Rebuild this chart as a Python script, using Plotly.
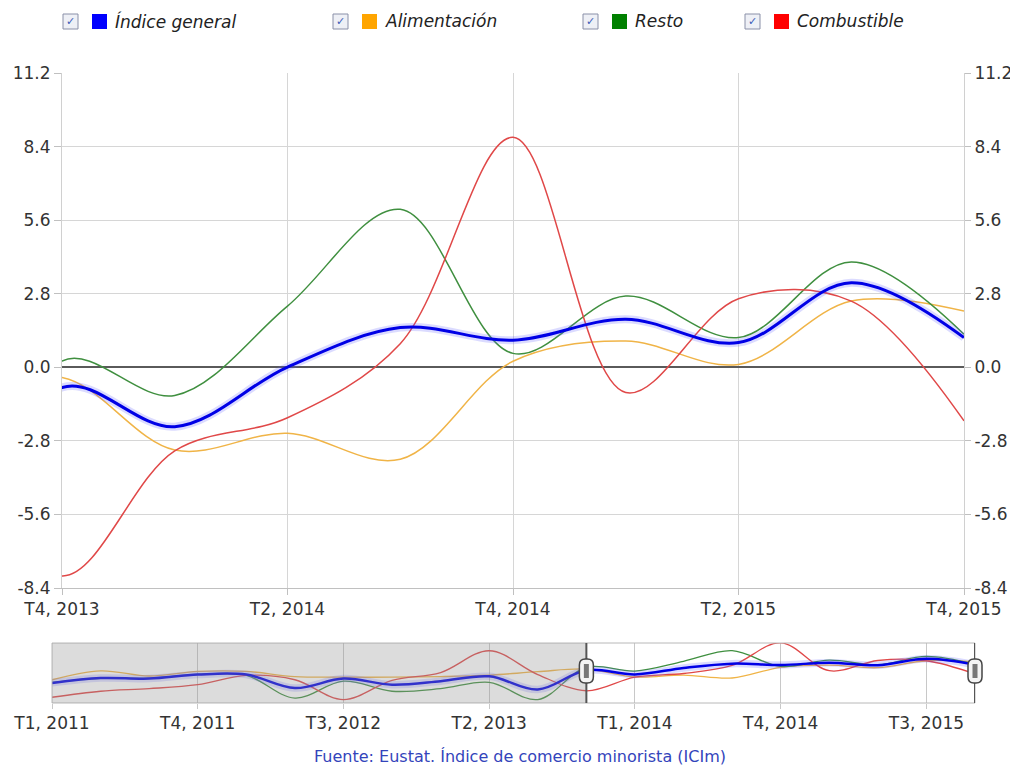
import plotly.graph_objects as go

# ---------------- data ----------------
quarters = ["T1, 2011", "T2, 2011", "T3, 2011", "T4, 2011",
            "T1, 2012", "T2, 2012", "T3, 2012", "T4, 2012",
            "T1, 2013", "T2, 2013", "T3, 2013", "T4, 2013",
            "T1, 2014", "T2, 2014", "T3, 2014", "T4, 2014",
            "T1, 2015", "T2, 2015", "T3, 2015", "T4, 2015"]

indice_general = [-5.2, -3.5, -3.7, -2.3, -2.3, -7.0, -3.7, -5.8, -4.6, -2.9,
                  -7.5, -0.77, -2.26, 0.01, 1.51, 1.03, 1.83, 0.94, 3.22, 1.13]
alimentacion = [-4.1, -1.0, -2.8, -1.2, -1.2, -3.0, -3.2, -3.2, -3.0, -2.5,
                -1.3, -0.39, -3.15, -2.51, -3.5, 0.23, 1.0, 0.11, 2.52, 2.14]
resto = [-5.0, -3.6, -3.6, -2.2, -2.6, -10.5, -4.6, -8.1, -7.2, -5.0,
         -11.0, 0.24, -1.07, 2.33, 6.01, 0.53, 2.71, 1.13, 4.01, 1.26]
combustible = [-10.2, -8.1, -7.2, -5.8, -2.6, -4.1, -11.0, -4.3, -1.6, 6.0,
               -2.3, -7.94, -3.18, -1.92, 0.9, 8.75, -0.96, 2.61, 2.52, -2.04]

series_names = ["Índice general", "Alimentación", "Resto", "Combustible"]
legend_colors = ["#0000ff", "#ffa500", "#008000", "#ff0000"]

y_ticks = [-8.4, -5.6, -2.8, 0.0, 2.8, 5.6, 8.4, 11.2]
main_tick_idx = [11, 13, 15, 17, 19]
nav_tick_idx = [0, 3, 6, 9, 12, 15, 18]
sel_start, sel_end = 11, 19
source_text = "Fuente: Eustat. Índice de comercio minorista (ICIm)"

# ---------------- layout helpers ----------------
# the page body has an 8px margin, so the figure starts at (8, 8) in the window
OFF = 8
W, H = 1018 - OFF, 765 - OFF
def px(x):
    return (x - OFF) / W
def py(y):
    return 1 - (y - OFF) / H

MAIN_L, MAIN_R, MAIN_T, MAIN_B = 62, 964, 73, 588
NAV_L, NAV_R, NAV_T, NAV_B = 52, 975, 643, 703
FONT = "DejaVu Sans, Verdana, sans-serif"

x_all = list(range(len(quarters)))

line_colors = {"gen": "#0000e6", "ali": "#f0b447", "res": "#3f8f3f", "com": "#e04848"}

fig = go.Figure()

def add_lines(xa, ya, blue_w, other_w):
    for vals, col in [(alimentacion, line_colors["ali"]),
                      (resto, line_colors["res"]),
                      (combustible, line_colors["com"])]:
        fig.add_trace(go.Scatter(x=x_all, y=vals, xaxis=xa, yaxis=ya, mode="lines",
                                 line=dict(color=col, width=other_w, shape="spline", smoothing=1.0),
                                 hoverinfo="skip", showlegend=False))
    fig.add_trace(go.Scatter(x=x_all, y=indice_general, xaxis=xa, yaxis=ya, mode="lines",
                             line=dict(color="rgba(90,90,255,0.22)", width=blue_w + 5,
                                       shape="spline", smoothing=1.0),
                             hoverinfo="skip", showlegend=False))
    fig.add_trace(go.Scatter(x=x_all, y=indice_general, xaxis=xa, yaxis=ya, mode="lines",
                             line=dict(color=line_colors["gen"], width=blue_w,
                                       shape="spline", smoothing=1.0),
                             hoverinfo="skip", showlegend=False))

add_lines("x", "y", 3, 1.5)
add_lines("x2", "y2", 2.5, 1.3)

# dummy trace for the right-hand axis
fig.add_trace(go.Scatter(x=[sel_start], y=[0], xaxis="x", yaxis="y3", mode="markers",
                         marker=dict(opacity=0), hoverinfo="skip", showlegend=False))

tick_font = dict(family=FONT, size=17, color="#333333")
y_text = [f"{v:.1f}" for v in y_ticks]

fig.update_layout(
    width=W, height=H,
    margin=dict(l=0, r=0, t=0, b=0),
    paper_bgcolor="white", plot_bgcolor="white",
    showlegend=False,
    xaxis=dict(domain=[px(MAIN_L), px(MAIN_R)], range=[sel_start, sel_end],
               tickvals=main_tick_idx, ticktext=[quarters[i] for i in main_tick_idx],
               showgrid=True, gridcolor="#d6d6d6", gridwidth=1,
               ticks="outside", ticklen=6, tickcolor="#c0c0c0",
               showline=True, linecolor="#c0c0c0", zeroline=False,
               tickfont=tick_font, anchor="y", automargin=False),
    yaxis=dict(domain=[py(MAIN_B), py(MAIN_T)], range=[-8.4, 11.2],
               tickvals=y_ticks, ticktext=y_text,
               showgrid=True, gridcolor="#d6d6d6", gridwidth=1,
               zeroline=True, zerolinecolor="#5a5a5a", zerolinewidth=2,
               ticks="outside", ticklen=7, tickcolor="#c0c0c0",
               showline=True, linecolor="#d0d0d0", mirror=False,
               tickfont=tick_font, anchor="x", automargin=False),
    yaxis3=dict(overlaying="y", side="right", range=[-8.4, 11.2],
                tickvals=y_ticks, ticktext=y_text, showgrid=False, zeroline=False,
                ticks="outside", ticklen=6, tickcolor="#c0c0c0",
                showline=True, linecolor="#d0d0d0",
                tickfont=tick_font, anchor="x", automargin=False),
    xaxis2=dict(domain=[px(NAV_L), px(NAV_R)], range=[0, len(quarters) - 1],
                tickvals=nav_tick_idx, ticktext=[quarters[i] for i in nav_tick_idx],
                showgrid=True, gridcolor="#c8c8c8", ticks="outside", ticklen=5,
                tickcolor="#c8c8c8", showline=False, zeroline=False,
                tickfont=tick_font, anchor="y2", automargin=False),
    yaxis2=dict(domain=[py(NAV_B), py(NAV_T)], range=[-12.2, 8.7],
                showticklabels=False, showgrid=False, zeroline=False,
                showline=False, anchor="x2", automargin=False),
)

shapes = []
# navigator border
shapes.append(dict(type="rect", xref="paper", yref="paper",
                   x0=px(NAV_L), x1=px(NAV_R), y0=py(NAV_B), y1=py(NAV_T),
                   line=dict(color="#b8b8b8", width=1), fillcolor="rgba(0,0,0,0)", layer="above"))
# navigator mask (unselected region)
shapes.append(dict(type="rect", xref="x2", yref="y2 domain", x0=0, x1=sel_start, y0=0, y1=1,
                   fillcolor="rgba(150,150,150,0.33)", line=dict(width=0), layer="above"))
# selection edge lines
for xs in (sel_start, sel_end):
    shapes.append(dict(type="line", xref="x2", yref="y2 domain", x0=xs, x1=xs, y0=0, y1=1,
                       line=dict(color="#555555", width=2), layer="above"))

# handles (rounded rectangles)
def handle_path(cx, cy, w=14, h=24, r=6):
    x0, x1 = cx - w / 2, cx + w / 2
    y0, y1 = cy - h / 2, cy + h / 2
    pts = (f"M {px(x0 + r)},{py(y0)} L {px(x1 - r)},{py(y0)} "
           f"Q {px(x1)},{py(y0)} {px(x1)},{py(y0 + r)} L {px(x1)},{py(y1 - r)} "
           f"Q {px(x1)},{py(y1)} {px(x1 - r)},{py(y1)} L {px(x0 + r)},{py(y1)} "
           f"Q {px(x0)},{py(y1)} {px(x0)},{py(y1 - r)} L {px(x0)},{py(y0 + r)} "
           f"Q {px(x0)},{py(y0)} {px(x0 + r)},{py(y0)} Z")
    return pts

nav_scale = (NAV_R - NAV_L) / (len(quarters) - 1)
for xs in (sel_start, sel_end):
    cx = NAV_L + xs * nav_scale
    cy = 671
    shapes.append(dict(type="path", xref="paper", yref="paper", path=handle_path(cx, cy),
                       fillcolor="#f4f4f4", line=dict(color="#444444", width=1.5), layer="above"))
    shapes.append(dict(type="rect", xref="paper", yref="paper",
                       x0=px(cx - 2.5), x1=px(cx + 2.5), y0=py(cy + 7), y1=py(cy - 7),
                       fillcolor="#777777", line=dict(width=0), layer="above"))

annotations = []
# legend
legend_x = [63, 333, 583, 745]
for name, col, lx in zip(series_names, legend_colors, legend_x):
    shapes.append(dict(type="rect", xref="paper", yref="paper",
                       x0=px(lx), x1=px(lx + 15), y0=py(29), y1=py(14),
                       fillcolor="#eef0f6", line=dict(color="#8a90a8", width=1)))
    annotations.append(dict(x=px(lx + 7.5), y=py(21.5), xref="paper", yref="paper",
                            text="✓", showarrow=False, xanchor="center", yanchor="middle",
                            font=dict(family=FONT, size=11, color="#3c5cb8")))
    shapes.append(dict(type="rect", xref="paper", yref="paper",
                       x0=px(lx + 29), x1=px(lx + 44), y0=py(29), y1=py(14),
                       fillcolor=col, line=dict(width=0)))
    annotations.append(dict(x=px(lx + 50), y=py(21), xref="paper", yref="paper",
                            text=f"<i>{name}</i>", showarrow=False, xanchor="left",
                            yanchor="middle",
                            font=dict(family=FONT, size=17, color="#222222")))

annotations.append(dict(x=px(520), y=py(756), xref="paper", yref="paper",
                        text=source_text, showarrow=False, xanchor="center", yanchor="middle",
                        font=dict(family=FONT, size=16, color="#3344bb")))

fig.update_layout(shapes=shapes, annotations=annotations)

fig.write_html("out.html")
